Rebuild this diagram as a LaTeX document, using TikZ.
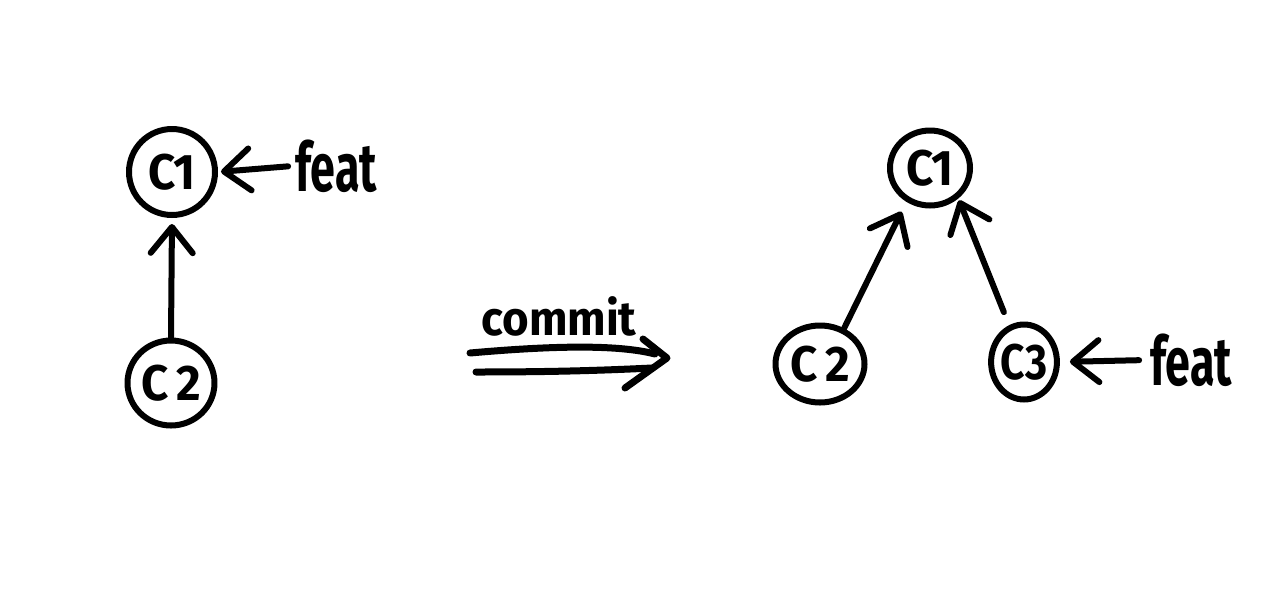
\documentclass[tikz,border=0pt]{standalone}
\usepackage{fontspec}
\setmainfont{Fira Sans}
\usetikzlibrary{arrows.meta,shapes.geometric}
\begin{document}
\begin{tikzpicture}[x=1pt,y=-1pt, line width=6pt, line cap=round, line join=round,
  commitnode/.style={draw, ellipse, inner sep=0pt, font=\fontsize{50}{54}\selectfont\bfseries},
  link/.style={-{Straight Barb[length=26pt,width=42pt,round]}},
  branchlabel/.style={font=\fontsize{68}{72}\selectfont\bfseries, inner sep=0pt},
  actlabel/.style={font=\fontsize{48}{52}\selectfont\bfseries, inner sep=0pt}]
\useasboundingbox (0,0) rectangle (1280,606);
\fill[white] (0,0) rectangle (1280,606);

% left graph
\node[commitnode, minimum width=86pt, minimum height=86pt] (a1) at (172,172) {\scalebox{0.95}[1]{C1}};
\node[commitnode, minimum width=87pt, minimum height=85pt] (a2) at (171,383) {\scalebox{0.95}[1]{C\,2}};
\node[branchlabel] (af) at (336,166) {\scalebox{0.66}[1]{feat}};
\draw[link, shorten >=6pt] (a2.north) -- (a1.south);
\draw[link, shorten >=3pt, shorten <=4pt] (af.west) -- (a1.east);

% commit arrow
\node[actlabel] (cm) at (559,316) {\scalebox{0.95}[1]{commit}};
\coordinate (u0) at (470,353);
\coordinate (u1) at (655,354);
\coordinate (l0) at (476,372);
\coordinate (l1) at (652,368);
\coordinate (tip) at (667,358);
\coordinate (hu) at (643,339);
\coordinate (hl) at (625,388);
\draw[line width=7pt] (u0) .. controls (560,345) and (620,345) .. (u1);
\draw[line width=7pt] (l0) .. controls (560,372) and (610,370) .. (l1);
\draw[line width=7pt] (hu) -- (tip) -- (hl);

% right graph
\node[commitnode, minimum width=80pt, minimum height=75pt] (b1) at (930,168) {\scalebox{0.95}[1]{C1}};
\node[commitnode, minimum width=89pt, minimum height=77pt] (b2) at (820,364) {\scalebox{0.95}[1]{C\,2}};
\node[commitnode, minimum width=62pt, minimum height=75pt] (b3) at (1024,362) {\scalebox{0.85}[1]{C3}};
\node[branchlabel] (bf) at (1191,360) {\scalebox{0.66}[1]{feat}};
\draw[link, shorten >=11pt] (b2.56) -- (b1.235);
\draw[link, shorten <=14pt, shorten >=2pt] (b3.112) -- (b1.313);
\draw[link, shorten >=10pt, shorten <=8pt] (bf.west) -- (b3.east);
\end{tikzpicture}
\end{document}
